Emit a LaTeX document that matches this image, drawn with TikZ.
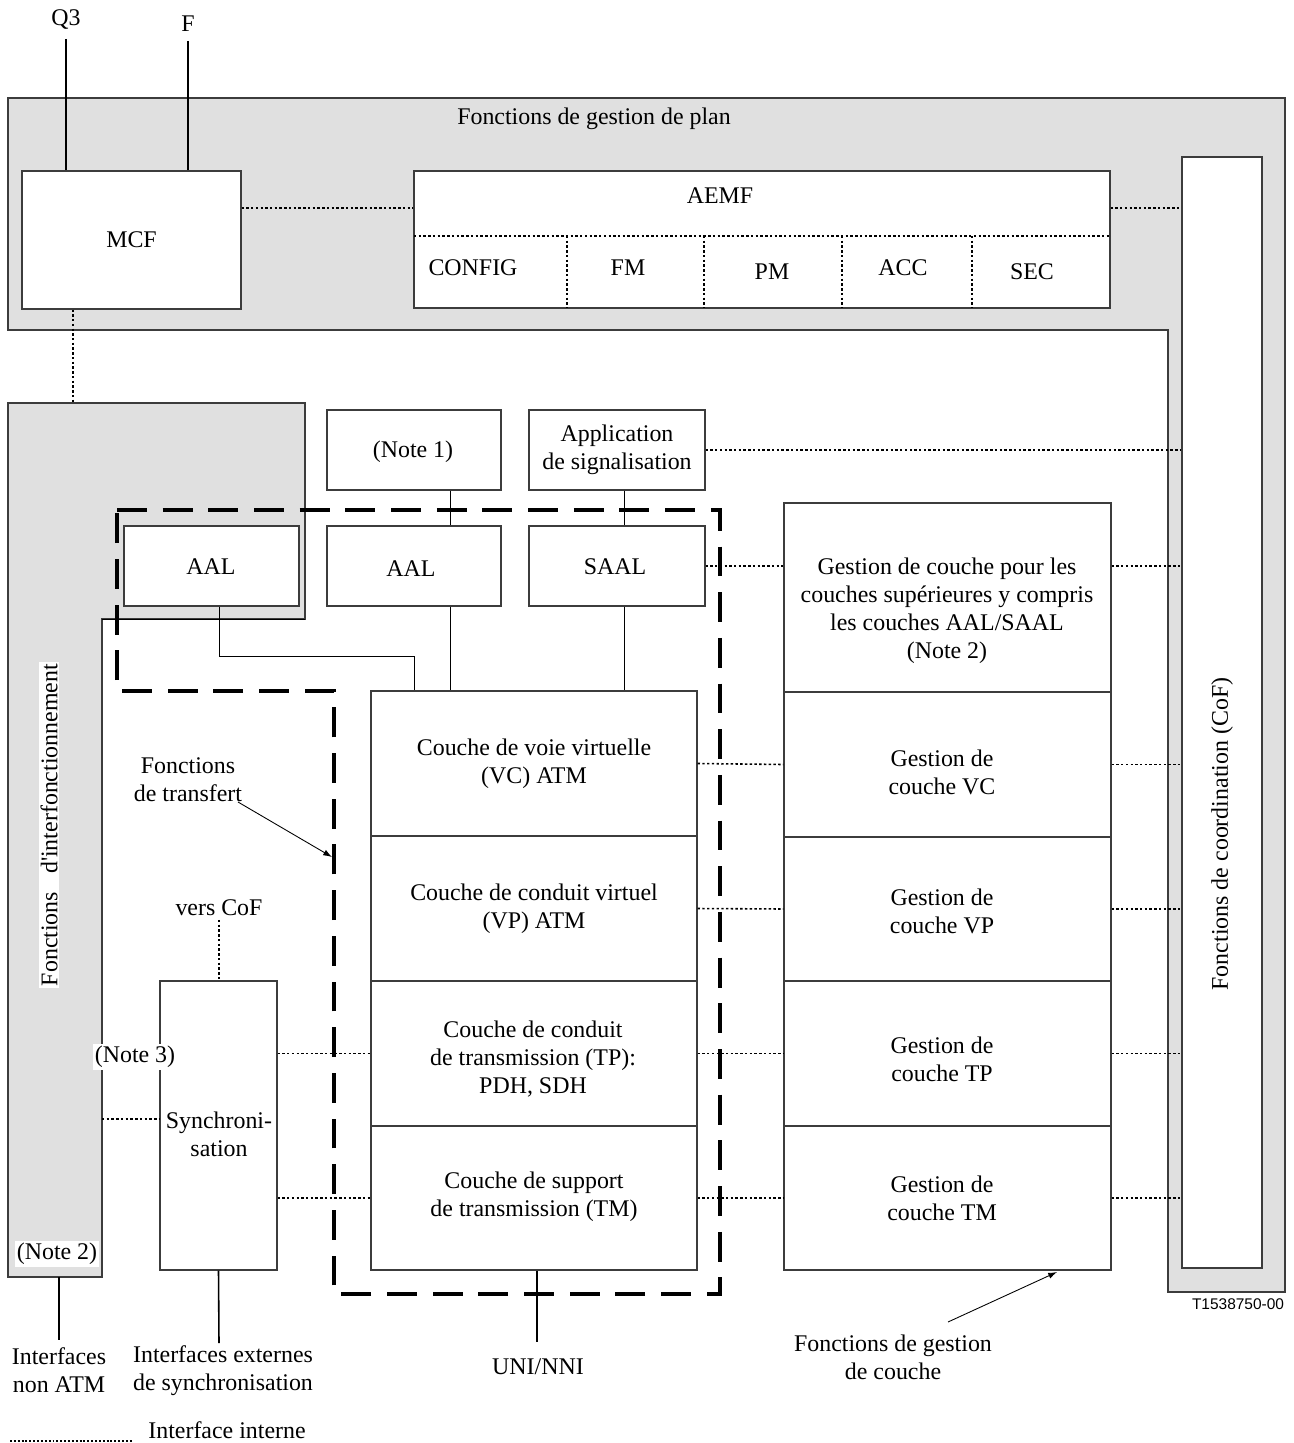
\documentclass[tikz,border=0pt]{standalone}
\usepackage{fontspec}
\setmainfont{Liberation Serif}
\newfontfamily\arialfont{Liberation Sans}
\usetikzlibrary{fit,arrows.meta}
\definecolor{panelgray}{RGB}{224,224,224}
\definecolor{edgegray}{RGB}{60,60,60}
\begin{document}
\begin{tikzpicture}[x=0.02cm,y=-0.02cm,
  font=\fontsize{13.6}{15.9}\selectfont,
  box/.style={draw=edgegray, line width=0.6pt, fill=white, inner sep=0pt},
  txt/.style={align=center, inner sep=0pt},
  dotline/.style={line width=0.9pt, dash pattern=on 1.4pt off 1.3pt},
  solidline/.style={line width=0.9pt},
  thinline/.style={line width=0.55pt},
  panel/.style={fill=panelgray, draw=edgegray, line width=0.6pt},
  transfer/.style={line width=2.3pt, dash pattern=on 17pt off 9pt},
  pointer/.style={line width=0.5pt, -{Latex[length=5pt,width=3.5pt]}}]
\useasboundingbox (0,0) rectangle (1294,1443);

% helper coordinates
\coordinate (y208) at (0,208);
\coordinate (y656) at (0,656);
\coordinate (x219) at (219,0);
\coordinate (x414) at (414,0);
\coordinate (xa) at (450,0);
\coordinate (xs) at (624,0);
\coordinate (x73) at (73,0);
\coordinate (x537) at (537,0);

% gray panels
\path[panel] (8,98) -- (1285,98) -- (1285,1292) -- (1168,1292) -- (1168,330) -- (8,330) -- cycle;
\path[panel] (8,403) -- (305,403) -- (305,619) -- (102,619) -- (102,1277) -- (8,1277) -- cycle;
\coordinate (iwtop) at (73,403);
\coordinate (iwright) at (102,1119);
\coordinate (iwbot) at (59,1277);

\node[txt] (plan) at (594,119) {Fonctions de gestion de plan};

% top boxes
\node[box, fit={(22,171)(241,309)}] (mcf) {};
\node[txt] (mcft) at (mcf.center) {MCF};
\node[box, fit={(414,171)(1110,308)}] (aemf) {};
\node[txt] (aemft) at (720,196) {AEMF};
\draw[dotline] (414,236) -- (1110,236);
\foreach \xx in {567,704,842,972} \draw[dotline] (\xx,236) -- (\xx,308);
\node[txt] (config) at (473,268) {CONFIG};
\node[txt] (fm) at (628,268) {FM};
\node[txt] (pm) at (772,272) {PM};
\node[txt] (acc) at (903,268) {ACC};
\node[txt] (sec) at (1032,272) {SEC};

% CoF
\node[box, fit={(1182,157)(1262,1268)}] (cof) {};
\node[txt, rotate=90] (coft) at (1222,834) {Fonctions de coordination (CoF)};

% Q3 / F
\node[txt] (q3) at (66,20) {Q3};
\node[txt] (f) at (188,24) {F};
\draw[solidline] ([yshift=-5pt]q3.south) -- (q3.south |- mcf.north);
\draw[solidline] ([yshift=-5pt]f.south) -- (f.south |- mcf.north);

% interworking labels
\node[txt, rotate=90, fill=white, inner sep=1pt] (iwt) at (49,825) {Fonctions\hspace{0.5em} d\textquotesingle interfonctionnement};
\node[txt, fill=white, inner sep=1pt] (n2) at (57,1254) {(Note 2)};

% left AAL
\node[box, fit={(124,526)(299,606)}] (aall) {};
\node[txt] at (211,567) {AAL};

% middle boxes
\node[box, fit={(327,410)(501,490)}] (note1) {};
\node[txt] at (413,452) {(Note 1)};
\node[box, fit={(529,410)(705,490)}] (app) {};
\node[txt] at (617,450) {Application\\de signalisation};
\node[box, fit={(327,526)(501,606)}] (aal) {};
\node[txt] at (411,569) {AAL};
\node[box, fit={(529,526)(705,606)}] (saal) {};
\node[txt] at (615,567) {SAAL};

\node[box, fit={(371,691)(697,836)}] (vc) {};
\node[txt] at (534,764) {Couche de voie virtuelle\\(VC) ATM};
\node[box, fit={(371,836)(697,981)}] (vp) {};
\node[txt] at (534,909) {Couche de conduit virtuel\\(VP) ATM};
\node[box, fit={(371,981)(697,1126)}] (tp) {};
\node[txt] at (533,1059) {Couche de conduit\\de transmission (TP):\\PDH, SDH};
\node[box, fit={(371,1126)(697,1270)}] (tm) {};
\node[txt] at (534,1197) {Couche de support\\de transmission (TM)};

% gestion column
\node[box, fit={(784,503)(1111,692)}] (gul) {};
\node[txt] at (947,611) {Gestion de couche pour les\\couches sup\'erieures y compris\\les couches AAL/SAAL\\(Note 2)};
\node[box, fit={(784,692)(1111,837)}] (gvc) {};
\node[txt] at (942,772) {Gestion de\\couche VC};
\node[box, fit={(784,837)(1111,981)}] (gvp) {};
\node[txt] at (942,911) {Gestion de\\couche VP};
\node[box, fit={(784,981)(1111,1126)}] (gtp) {};
\node[txt] at (942,1059) {Gestion de\\couche TP};
\node[box, fit={(784,1126)(1111,1270)}] (gtm) {};
\node[txt] at (942,1198) {Gestion de\\couche TM};

% synchronisation
\node[box, fit={(160,981)(277,1270)}] (sync) {};
\node[txt] (synct) at (219,1134) {Synchroni-\\sation};
\node[txt] (verscof) at (219,908) {vers CoF};
\node[txt, fill=white, inner sep=1pt] (n3) at (135,1057) {(Note 3)};

% transfer functions dashed outline
\draw[transfer] (117,510) -- (720,510) -- (720,1294) -- (334,1294) -- (334,691) -- (117,691) -- cycle;

% solid connectors
\draw[thinline] (note1.south -| xa) -- (aal.north -| xa);
\draw[thinline] (aal.south -| xa) -- (vc.north -| xa);
\draw[thinline] (app.south -| xs) -- (saal.north -| xs);
\draw[thinline] (saal.south -| xs) -- (vc.north -| xs);
\draw[thinline] (aall.south -| x219) -- (x219 |- y656) -- (x414 |- y656) -- (vc.north -| x414);
\draw[thinline] (102,619) -- (305,619);

% dotted connectors
\draw[dotline] (mcf.east |- y208) -- (aemf.west |- y208);
\draw[dotline] (aemf.east |- y208) -- (cof.west |- y208);
\draw[dotline] (mcf.south -| x73) -- (iwtop);
\draw[dotline] (app.east) -- (cof.west |- app.east);
\draw[dotline] (saal.east) -- (gul.west |- saal.east);
\draw[dotline] (gul.east |- saal.east) -- (cof.west |- saal.east);
\foreach \a/\b in {vc/gvc, vp/gvp, tp/gtp, tm/gtm} {
  \draw[dotline] (\a.east) -- (\b.west);
  \draw[dotline] (\b.east) -- (cof.west |- \b.east);
}
\draw[dotline] (sync.east |- tp.west) -- (tp.west);
\draw[dotline] (sync.east |- tm.west) -- (tm.west);
\draw[dotline] (iwright) -- (sync.west |- iwright);
\draw[dotline] ([yshift=-2pt]verscof.south) -- (verscof.south |- sync.north);

% bottom interfaces
\node[txt] (nonatm) at (59,1370) {Interfaces\\non ATM};
\node[txt] (extsync) at (223,1371) {Interfaces externes\\de synchronisation};
\node[txt] (uni) at (538,1367) {UNI/NNI};
\coordinate (nonatmend) at (59,1340);
\coordinate (syncend) at (219,1343);
\coordinate (uniend) at (537,1342);
\draw[solidline] (iwbot) -- (nonatmend);
\draw[solidline] (sync.south) -- (syncend);
\draw[solidline] (tm.south -| x537) -- (uniend);

% annotations with arrows
\node[txt] (ftrans) at (188,780) {Fonctions\\de transfert};
\coordinate (ftstart) at (238,802);
\coordinate (ftend) at (332,857);
\draw[pointer] (ftstart) -- (ftend);
\node[txt] (fgc) at (893,1357) {Fonctions de gestion\\de couche};
\coordinate (fgcstart) at (948,1322);
\coordinate (fgcend) at (1057,1272);
\draw[pointer] (fgcstart) -- (fgcend);

\node[txt, font=\arialfont\fontsize{8.8}{10}\selectfont] (ref) at (1238,1304) {T1538750-00};

% legend
\coordinate (leg1) at (10,1441);
\coordinate (leg2) at (133,1441);
\draw[dotline, line width=0.6pt, dash pattern=on 1.1pt off 1.1pt] (leg1) -- (leg2);
\node[txt] (legt) at (227,1430) {Interface interne};
\end{tikzpicture}
\end{document}
